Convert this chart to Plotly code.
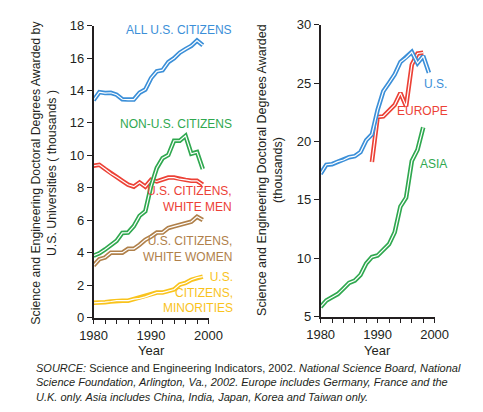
import plotly.graph_objects as go

years = list(range(1980, 2000))

# Left panel (thousands)
all_us = [13.4, 13.9, 13.84, 13.86, 13.74, 13.46, 13.44, 13.44, 13.86, 14.06,
          14.76, 15.18, 15.25, 15.75, 15.99, 16.33, 16.55, 16.75, 17.08, 16.79]
non_us = [3.82, 3.96, 4.2, 4.45, 4.73, 5.22, 5.24, 5.64, 6.27, 6.56,
          8.1, 9.22, 9.82, 10.02, 10.9, 10.9, 11.2, 10.1, 10.2, 9.16]
white_men = [9.36, 9.42, 9.16, 8.88, 8.67, 8.43, 8.19, 8.07, 8.33, 8.07,
             8.49, 8.39, 8.49, 8.63, 8.63, 8.53, 8.49, 8.43, 8.43, 8.19]
white_women = [3.21, 3.6, 3.7, 4.0, 4.0, 4.0, 4.24, 4.24, 4.49, 4.79,
               4.99, 5.24, 5.24, 5.52, 5.62, 5.71, 5.81, 5.91, 6.21, 6.01]
minorities = [0.91, 0.91, 0.95, 0.99, 1.04, 1.04, 1.04, 1.14, 1.18, 1.28,
              1.40, 1.54, 1.54, 1.64, 1.73, 2.03, 2.13, 2.33, 2.46, 2.52]

# Right panel (thousands)
us_total = [17.23, 18.0, 18.05, 18.27, 18.41, 18.65, 18.74, 19.09, 20.1, 20.6,
            22.7, 24.29, 25.0, 25.74, 26.79, 27.17, 27.66, 26.7, 27.31, 25.88]
europe_years = list(range(1989, 1999))
europe = [18.24, 22.09, 22.14, 22.64, 23.13, 24.15, 23.0, 26.57, 27.53, 27.6]
asia_years = list(range(1980, 1999))
asia = [5.83, 6.38, 6.65, 6.93, 7.4, 7.89, 8.09, 8.58, 9.55, 10.1,
        10.23, 10.73, 11.2, 12.22, 14.42, 15.19, 18.32, 19.29, 21.2]

BLUE = "#3b8fd8"
GREEN = "#2fa84f"
RED = "#ec4136"
BROWN = "#b0804a"
YELLOW = "#f9c31c"
INK = "#231f20"
FONT = "Liberation Sans, Arial, sans-serif"

fig = go.Figure()

def double_line(x, y, color, xa, ya):
    fig.add_trace(go.Scatter(x=x, y=y, mode="lines", xaxis=xa, yaxis=ya,
                             line=dict(color=color, width=4.5), hoverinfo="skip",
                             showlegend=False))
    fig.add_trace(go.Scatter(x=x, y=y, mode="lines", xaxis=xa, yaxis=ya,
                             line=dict(color="white", width=1.2), hoverinfo="skip",
                             showlegend=False))

double_line(years, minorities, YELLOW, "x", "y")
double_line(years, white_women, BROWN, "x", "y")
double_line(years, white_men, RED, "x", "y")
double_line(years, non_us, GREEN, "x", "y")
double_line(years, all_us, BLUE, "x", "y")

double_line(asia_years, asia, GREEN, "x2", "y2")
double_line(europe_years, europe, RED, "x2", "y2")
double_line(years, us_total, BLUE, "x2", "y2")

axis_common = dict(showgrid=False, zeroline=False, showline=True, linecolor=INK,
                   linewidth=1.5, ticks="outside", tickcolor=INK, ticklen=5,
                   tickwidth=1.3, tickfont=dict(family=FONT, size=13, color=INK))

xa = dict(axis_common, range=[1980, 2000], tickvals=list(range(1980, 2001, 2)),
          ticktext=["1980", "", "", "", "", "1990", "", "", "", "", "2000"])
fig.update_layout(
    width=483, height=412,
    margin=dict(l=0, r=0, t=0, b=0),
    plot_bgcolor="white", paper_bgcolor="white",
    showlegend=False,
    xaxis=dict(xa, domain=[76/483, 198/483], anchor="y"),
    yaxis=dict(axis_common, range=[0, 18], dtick=2, domain=[98/412, 401/412], anchor="x"),
    xaxis2=dict(xa, domain=[317/483, 438/483], anchor="y2"),
    yaxis2=dict(axis_common, range=[5, 30], dtick=5, domain=[99/412, 402/412], anchor="x2"),
)

anns = []
def lab(text, x, y, color, xanchor="right", size=12):
    anns.append(dict(text=text, x=x/483, y=1 - y/412, xref="paper", yref="paper",
                     xanchor=xanchor, yanchor="middle", showarrow=False, align="right",
                     font=dict(family=FONT, size=size, color=color)))

lab("ALL U.S. CITIZENS", 225, 16, BLUE)
lab("NON-U.S. CITIZENS", 225, 113, GREEN)
lab("U.S. CITIZENS,<br>WHITE MEN", 225, 191, RED)
lab("U.S. CITIZENS,<br>WHITE WOMEN", 225, 243, BROWN)
lab("U.S.<br>CITIZENS,<br>MINORITIES", 226, 288, YELLOW)
lab("U.S.", 453, 72, BLUE)
lab("EUROPE", 454, 100, RED)
lab("ASIA", 453, 155, GREEN)

# axis titles
anns.append(dict(text="Science and Engineering Doctoral Degrees Awarded by<br>U.S. Universities ( thousands )",
                 x=23/483, y=1 - 164/412, xref="paper", yref="paper", textangle=-90,
                 showarrow=False, xanchor="center", yanchor="middle",
                 font=dict(family=FONT, size=12.3, color=INK)))
anns.append(dict(text="Science and Engineering Doctoral Degrees Awarded<br>(thousands)",
                 x=263/483, y=1 - 161/412, xref="paper", yref="paper", textangle=-90,
                 showarrow=False, xanchor="center", yanchor="middle",
                 font=dict(family=FONT, size=12.5, color=INK)))
for cx in (137, 377):
    anns.append(dict(text="Year", x=cx/483, y=1 - 348/412, xref="paper", yref="paper",
                     showarrow=False, xanchor="center", yanchor="middle",
                     font=dict(family=FONT, size=13, color=INK)))

anns.append(dict(
    text="<i>SOURCE:</i> Science and Engineering Indicators, 2002. <i>National Science Board, National</i><br>"
         "<i>Science Foundation, Arlington, Va., 2002. Europe includes Germany, France and the</i><br>"
         "<i>U.K. only. Asia includes China, India, Japan, Korea and Taiwan only.</i>",
    x=13/483, y=1 - 381/412, xref="paper", yref="paper", showarrow=False,
    xanchor="left", yanchor="middle", align="left",
    font=dict(family=FONT, size=11, color=INK)))

fig.update_layout(annotations=anns)
fig.write_html("out.html")
